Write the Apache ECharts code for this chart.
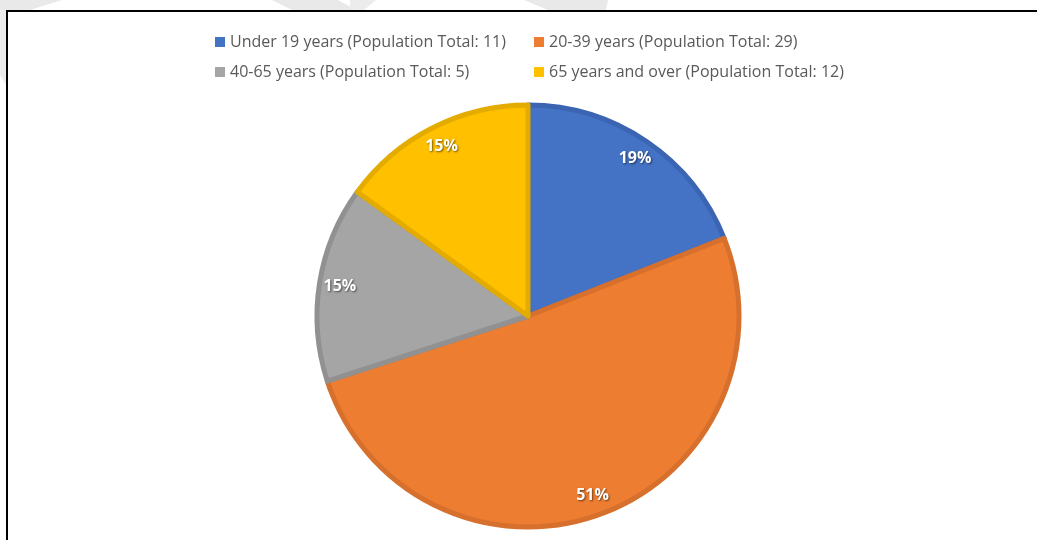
<!DOCTYPE html>
<html>
<head>
<meta charset="utf-8">
<script src="https://cdn.jsdelivr.net/npm/echarts@6/dist/echarts.min.js"></script>
<style>
  html, body { margin: 0; padding: 0; background: #fff; }
  #main { width: 1037px; height: 540px; }
</style>
</head>
<body>
<div id="main"></div>
<script>
const groups = [
  'Under 19 years (Population Total: 11)',
  '20-39 years (Population Total: 29)',
  '40-65 years (Population Total: 5)',
  '65 years and over (Population Total: 12)'
]
const shares = [19, 51, 15, 15]
const fills = ['#4472c4', '#ed7d31', '#a5a5a5', '#ffc000']
const edges = ['#3b65b2', '#d7702c', '#919191', '#e4ab00']

let chart = echarts.init(document.getElementById('main'))

const cx = 528, cy = 316

let pieData = groups.map((g, i) => ({
  name: g,
  value: shares[i],
  itemStyle: { color: fills[i], borderColor: edges[i] }
}))

// legend laid out as a 2x2 grid, one legend per item so the columns line up
const legendPos = [[210, 29], [529, 29], [210, 59], [529, 59]]
let legends = groups.map((g, i) => ({
  data: [g],
  left: legendPos[i][0],
  top: legendPos[i][1],
  itemWidth: 10,
  itemHeight: 10,
  icon: 'rect',
  selectedMode: false,
  itemStyle: { borderWidth: 0 },
  textStyle: { color: '#595959', fontSize: 16, fontFamily: 'Open Sans', padding: [0, 0, 0, 0] }
}))

let option = {
  backgroundColor: '#fff',
  animation: false,
  legend: legends,
  graphic: [
    // faint background shapes above the frame
    { type: 'polygon', silent: true, z: -1, shape: { points: [[0, 0], [62, 0], [30, 10], [0, 10]] }, style: { fill: '#e9e9e9' } },
    { type: 'polygon', silent: true, z: -1, shape: { points: [[0, 10], [6, 10], [6, 85], [0, 75]] }, style: { fill: '#ececec' } },
    { type: 'polygon', silent: true, z: -1, shape: { points: [[272, 0], [338, 0], [356, 10], [292, 10]] }, style: { fill: '#e9e9e9' } },
    { type: 'polygon', silent: true, z: -1, shape: { points: [[350, 0], [376, 0], [364, 10], [350, 10]] }, style: { fill: '#ececec' } },
    { type: 'polygon', silent: true, z: -1, shape: { points: [[524, 0], [608, 0], [606, 10], [548, 10]] }, style: { fill: '#e9e9e9' } },
    // frame lines
    { type: 'polyline', silent: true, shape: { points: [[7, 540], [7, 11], [1037, 11]] }, style: { stroke: '#000', lineWidth: 2, fill: null } }
  ],
  series: [
    {
      type: 'pie',
      center: [cx, cy],
      radius: [0, 211],
      startAngle: 90,
      clockwise: true,
      silent: true,
      itemStyle: { borderWidth: 5 },
      label: { show: false },
      labelLine: { show: false },
      data: pieData
    },
    {
      // invisible ring only used to place the percentage labels near the rim
      type: 'pie',
      center: [cx, cy],
      radius: [164, 211],
      startAngle: 90,
      clockwise: true,
      silent: true,
      itemStyle: { color: 'transparent', borderWidth: 0 },
      label: {
        show: true,
        position: 'inside',
        formatter: p => p.value + '%',
        color: '#fff',
        fontSize: 16,
        fontWeight: 'bold',
        fontFamily: 'Open Sans',
        textShadowColor: 'rgba(0,0,0,0.55)',
        textShadowBlur: 2,
        textShadowOffsetX: 1,
        textShadowOffsetY: 1
      },
      labelLine: { show: false },
      data: groups.map((g, i) => ({ name: g, value: shares[i] }))
    }
  ]
}

chart.setOption(option)
</script>
</body>
</html>
